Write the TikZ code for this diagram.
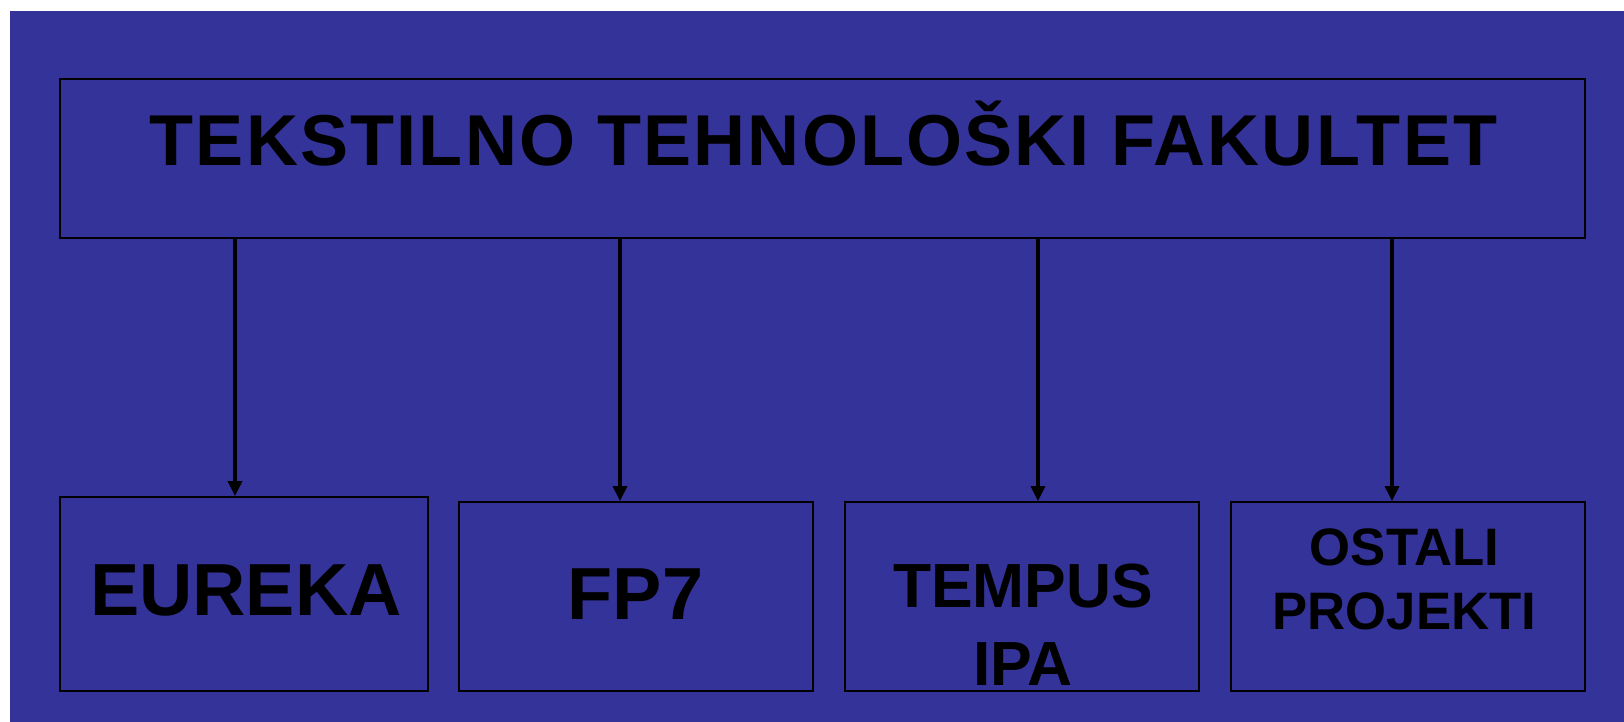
\documentclass[tikz,border=0pt]{standalone}
\usepackage{fontspec}
\setmainfont{Liberation Sans}
\usetikzlibrary{arrows.meta}
\definecolor{slideblue}{RGB}{51,51,153}

\begin{document}
\begin{tikzpicture}[x=0.02cm, y=-0.02cm,
	box/.style={draw=black, line width=1.1pt, inner sep=0pt},
	lbl/.style={inner sep=0pt, text=black, align=center},
	link/.style={line width=1.8pt, -{Triangle[width=8pt,length=8.5pt]}}]
	\useasboundingbox (0,0) rectangle (1624,722);
	\fill[slideblue] (10,11) rectangle (1624,722);

	\node[box, minimum width=30.5cm, minimum height=3.18cm] (fak) at (822.5,158.5){};
	\node[box, minimum width=7.35cm, minimum height=3.88cm] (eureka) at (244,594){};
	\node[box, minimum width=7.08cm, minimum height=3.78cm] (fp) at (636,596.5){};
	\node[box, minimum width=7.08cm, minimum height=3.78cm] (tempus) at (1022,596.5){};
	\node[box, minimum width=7.08cm, minimum height=3.78cm] (ostali) at (1408,596.5){};

	\node[lbl, anchor=base, font=\fontsize{41}{49}\selectfont\bfseries\addfontfeature{LetterSpace=3}] (faktxt) at (823.5,166){TEKSTILNO TEHNOLOŠKI FAKULTET};
	\node[lbl, anchor=base, font=\fontsize{42}{50}\selectfont\bfseries] (eurekatxt) at (246,616){EUREKA};
	\node[lbl, anchor=base, font=\fontsize{42}{50}\selectfont\bfseries] (fptxt) at (635.5,620){FP7};
	\node[lbl, font=\fontsize{35.5}{44.2}\selectfont\bfseries] (tempustxt) at (1023,625){TEMPUS\\IPA};
	\node[lbl, font=\fontsize{30}{36.3}\selectfont\bfseries] (ostalitxt) at (1404.5,579.5){OSTALI\\PROJEKTI};

	\foreach \n/\ax in {eureka/235, fp/620, tempus/1038, ostali/1392}
		\draw[link] (fak.south -| \ax,0) -- (\n.north -| \ax,0);
\end{tikzpicture}
\end{document}
